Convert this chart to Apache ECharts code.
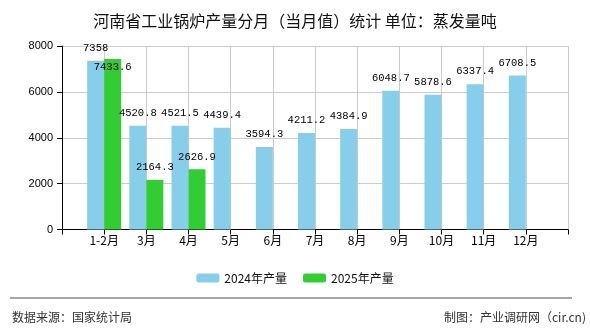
<!DOCTYPE html>
<html>
<head>
<meta charset="utf-8">
<script src="https://cdn.jsdelivr.net/npm/echarts@6/dist/echarts.min.js"></script>
<style>
html,body{margin:0;padding:0;background:#fff;}
#main{width:590px;height:330px;}
</style>
</head>
<body>
<div id="main"></div>
<script>
var titleText = '河南省工业锅炉产量分月（当月值）统计 单位：蒸发量吨';
var months = ['1-2月','3月','4月','5月','6月','7月','8月','9月','10月','11月','12月'];
var seriesNames = ['2024年产量','2025年产量'];
var values2024 = [7358, 4520.8, 4521.5, 4439.4, 3594.3, 4211.2, 4384.9, 6048.7, 5878.6, 6337.4, 6708.5];
var values2025 = [7433.6, 2164.3, 2626.9];
var yTicks = [0, 2000, 4000, 6000, 8000];
var sourceText = '数据来源：国家统计局';
var creditText = '制图：产业调研网（cir.cn)';

// padded category axis (empty slot at both ends)
var cats = [''].concat(months).concat(['']);
function pad(arr){
  var out = [null];
  for (var i = 0; i < months.length; i++) out.push(i < arr.length ? arr[i] : null);
  out.push(null);
  return out;
}
var d2024 = pad(values2024);
var d2025 = pad(values2025).map(function(v, i){
  if (i === 1 && v != null) {
    return {value: v, label: {position: 'insideTop', distance: 3}};
  }
  return v;
});

var labelFont = {
  show: true, position: 'top', distance: 7, color: '#000',
  fontFamily: 'Liberation Mono', fontSize: 10.5,
  formatter: function(p){ return String(p.value); }
};

var chart = echarts.init(document.getElementById('main'), null, {renderer: 'canvas'});
chart.setOption({
  animation: false,
  backgroundColor: '#fff',
  title: {
    text: titleText, left: 'center', top: 8,
    textStyle: {fontFamily: 'Noto Sans CJK SC', fontSize: 16, fontWeight: 'normal', color: '#111'}
  },
  legend: {
    data: seriesNames, left: 'center', top: 267,
    itemWidth: 23, itemHeight: 9, itemGap: 16,
    textStyle: {fontFamily: 'Noto Sans CJK SC', fontSize: 12, color: '#111'}
  },
  grid: {left: 62, right: 22, top: 46, height: 183.5},
  xAxis: {
    type: 'category', data: cats, boundaryGap: false,
    axisLine: {lineStyle: {color: '#000', width: 1}},
    axisTick: {show: true, length: 5, lineStyle: {color: '#000'}},
    axisLabel: {interval: 0, margin: 5, color: '#000', fontFamily: 'Noto Sans CJK SC', fontSize: 12},
    splitLine: {show: true, lineStyle: {color: '#cccccc', width: 1}}
  },
  yAxis: {
    type: 'value', min: yTicks[0], max: yTicks[yTicks.length - 1], interval: yTicks[1] - yTicks[0],
    axisLine: {show: true, lineStyle: {color: '#000', width: 1}},
    axisTick: {show: true, length: 5, lineStyle: {color: '#000'}},
    axisLabel: {margin: 9, color: '#000', fontFamily: 'Liberation Sans', fontSize: 11,
                formatter: function(v){ return String(v); }},
    splitLine: {show: true, lineStyle: {color: '#cccccc', width: 1}}
  },
  series: [
    {name: seriesNames[0], type: 'bar', data: d2024, barWidth: 17, barGap: '0%',
     itemStyle: {color: '#87CEEB'}, label: labelFont},
    {name: seriesNames[1], type: 'bar', data: d2025, barWidth: 17, barGap: '0%',
     itemStyle: {color: '#32CD32'}, label: labelFont}
  ],
  graphic: [
    {type: 'line', shape: {x1: 10, y1: 298, x2: 572, y2: 298},
     style: {stroke: '#888', lineWidth: 1.5}, silent: true},
    {type: 'text', left: 12, top: 311,
     style: {text: sourceText, fontFamily: 'Noto Sans CJK SC', fontSize: 12, fill: '#333'}},
    {type: 'text', right: 4, top: 311,
     style: {text: creditText, fontFamily: 'Noto Sans CJK SC', fontSize: 12, fill: '#333'}}
  ]
});
</script>
</body>
</html>
